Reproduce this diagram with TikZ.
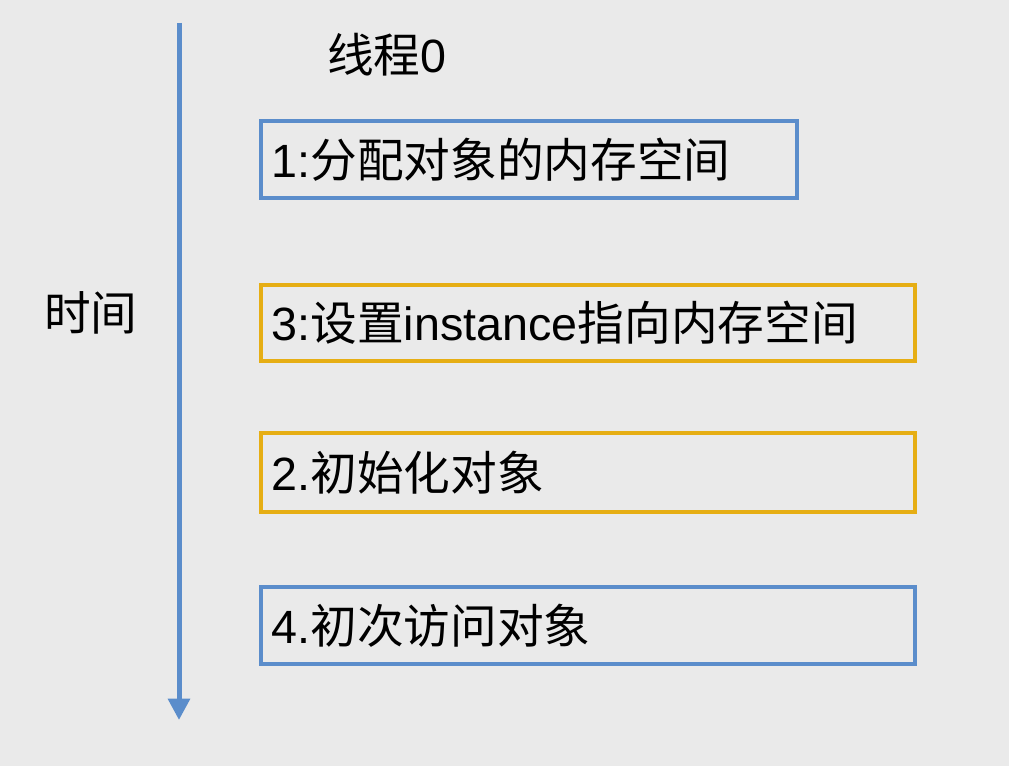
\documentclass[tikz,border=0pt]{standalone}
\usepackage{fontspec}
\setmainfont{Liberation Sans}
\newfontfamily\cjk{Noto Sans CJK SC}
\newcommand{\zh}[1]{{\cjk #1}}
\usetikzlibrary{arrows.meta}
\definecolor{bggray}{RGB}{234,234,234}
\definecolor{lineblue}{RGB}{91,141,203}
\definecolor{boxgold}{RGB}{230,174,20}
\tikzset{
  steplabel/.style={anchor=west, inner sep=0pt, font=\fontsize{35}{40}\selectfont},
  stepbox/.style={draw, line width=3pt, anchor=west, align=left, inner xsep=8pt, inner ysep=0pt,
    font=\fontsize{35}{40}\selectfont},
}
\begin{document}
\begin{tikzpicture}[x=0.75pt, y=-0.75pt]
\fill[bggray] (0,0) rectangle (1009,766);
\coordinate (tstart) at (179,23);
\coordinate (tend) at (179,720);
\draw[lineblue, line width=3.75pt, -{Triangle[length=16pt, width=16pt]}] (tstart) -- (tend);
\node[steplabel] (thread) at (327,55) {\zh{线程}0};
\node[steplabel] (time) at (44,313) {\zh{时间}};
\node[stepbox, draw=lineblue, minimum width=402pt, text width=386pt, minimum height=57.75pt] (alloc) at (259,159.5) {1:\zh{分配对象的内存空间}};
\node[stepbox, draw=boxgold, minimum width=490.5pt, text width=474.5pt, minimum height=57pt] (assign) at (259,323) {3:\zh{设置}instance\zh{指向内存空间}};
\node[stepbox, draw=boxgold, minimum width=490.5pt, text width=474.5pt, minimum height=59.25pt] (init) at (259,472.5) {2.\zh{初始化对象}};
\node[stepbox, draw=lineblue, minimum width=490.5pt, text width=474.5pt, minimum height=57.75pt] (access) at (259,625.5) {4.\zh{初次访问对象}};
\end{tikzpicture}
\end{document}
